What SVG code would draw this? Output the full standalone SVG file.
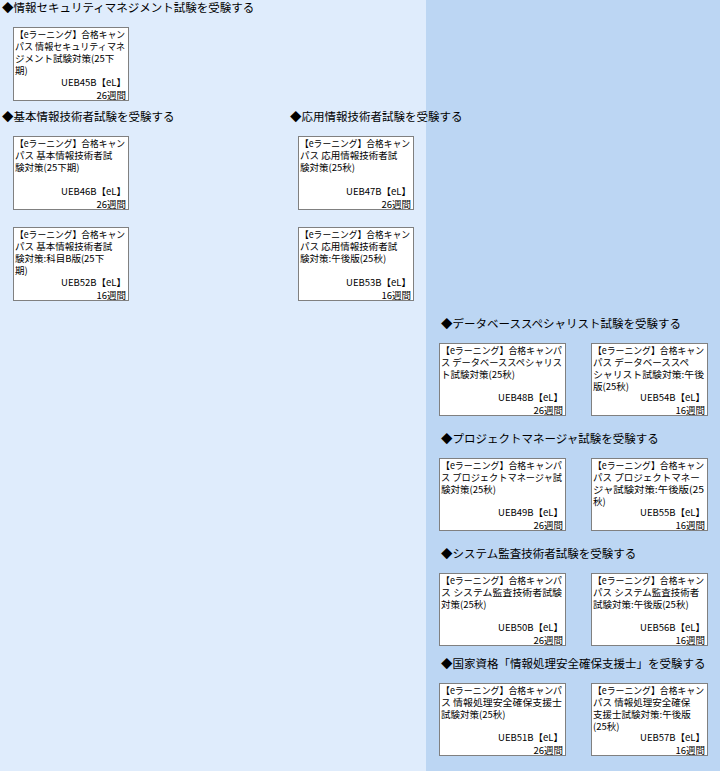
<svg xmlns="http://www.w3.org/2000/svg" width="720" height="771" viewBox="0 0 720 771">
<style>
.h{font-family:"Noto Sans CJK JP",sans-serif;font-size:11.5px;fill:#000}
.t{font-family:"Noto Sans CJK JP",sans-serif;font-size:9.5px;fill:#000}
.r{text-anchor:end}
.b{fill:#fff;stroke:#808080;stroke-width:1}
</style>
<rect x="0" y="0" width="426" height="771" fill="#dfecfc"/>
<rect x="426" y="0" width="294" height="771" fill="#bcd6f3"/>
<g id="headings">
<text class="h" x="2" y="12">◆情報セキュリティマネジメント試験を受験する</text>
<text class="h" x="2" y="121">◆基本情報技術者試験を受験する</text>
<text class="h" x="290" y="121">◆応用情報技術者試験を受験する</text>
<text class="h" x="441" y="328">◆データベーススペシャリスト試験を受験する</text>
<text class="h" x="441" y="443">◆プロジェクトマネージャ試験を受験する</text>
<text class="h" x="441" y="558">◆システム監査技術者試験を受験する</text>
<text class="h" x="441" y="668">◆国家資格「情報処理安全確保支援士」を受験する</text>
</g>
<g id="n1"><rect class="b" x="13.5" y="27.5" width="115" height="73"/>
<text class="t" x="15" y="38" textLength="110" lengthAdjust="spacingAndGlyphs">【eラーニング】合格キャン</text><text class="t" x="15" y="50" textLength="110" lengthAdjust="spacingAndGlyphs">パス 情報セキュリティマネ</text><text class="t" x="15" y="62">ジメント試験対策(25下</text><text class="t" x="15" y="74">期)</text>
<text class="t r" x="126" y="86">UEB45B【eL】</text><text class="t r" x="126" y="99">26週間</text></g>
<g id="n2"><rect class="b" x="13.5" y="136.5" width="115" height="73"/>
<text class="t" x="15" y="147" textLength="110" lengthAdjust="spacingAndGlyphs">【eラーニング】合格キャン</text><text class="t" x="15" y="159">パス 基本情報技術者試</text><text class="t" x="15" y="171">験対策(25下期)</text>
<text class="t r" x="126" y="195">UEB46B【eL】</text><text class="t r" x="126" y="208">26週間</text></g>
<g id="n3"><rect class="b" x="13.5" y="227.5" width="115" height="73"/>
<text class="t" x="15" y="238" textLength="110" lengthAdjust="spacingAndGlyphs">【eラーニング】合格キャン</text><text class="t" x="15" y="250">パス 基本情報技術者試</text><text class="t" x="15" y="262">験対策:科目B版(25下</text><text class="t" x="15" y="274">期)</text>
<text class="t r" x="126" y="286">UEB52B【eL】</text><text class="t r" x="126" y="299">16週間</text></g>
<g id="n4"><rect class="b" x="298.5" y="136.5" width="115" height="73"/>
<text class="t" x="300" y="147" textLength="110" lengthAdjust="spacingAndGlyphs">【eラーニング】合格キャン</text><text class="t" x="300" y="159">パス 応用情報技術者試</text><text class="t" x="300" y="171">験対策(25秋)</text>
<text class="t r" x="411" y="195">UEB47B【eL】</text><text class="t r" x="411" y="208">26週間</text></g>
<g id="n5"><rect class="b" x="298.5" y="227.5" width="115" height="73"/>
<text class="t" x="300" y="238" textLength="110" lengthAdjust="spacingAndGlyphs">【eラーニング】合格キャン</text><text class="t" x="300" y="250">パス 応用情報技術者試</text><text class="t" x="300" y="262">験対策:午後版(25秋)</text>
<text class="t r" x="411" y="286">UEB53B【eL】</text><text class="t r" x="411" y="299">16週間</text></g>
<g id="n6"><rect class="b" x="439.5" y="343.5" width="126" height="72"/>
<text class="t" x="441" y="354" textLength="121" lengthAdjust="spacingAndGlyphs">【eラーニング】合格キャンパ</text><text class="t" x="441" y="366" textLength="121" lengthAdjust="spacingAndGlyphs">ス データベーススペシャリス</text><text class="t" x="441" y="378">ト試験対策(25秋)</text>
<text class="t r" x="563" y="401">UEB48B【eL】</text><text class="t r" x="563" y="414">26週間</text></g>
<g id="n7"><rect class="b" x="591.5" y="343.5" width="116" height="72"/>
<text class="t" x="593" y="354" textLength="111" lengthAdjust="spacingAndGlyphs">【eラーニング】合格キャン</text><text class="t" x="593" y="366">パス データベーススペ</text><text class="t" x="593" y="378" textLength="111" lengthAdjust="spacingAndGlyphs">シャリスト試験対策:午後</text><text class="t" x="593" y="390">版(25秋)</text>
<text class="t r" x="705" y="401">UEB54B【eL】</text><text class="t r" x="705" y="414">16週間</text></g>
<g id="n8"><rect class="b" x="439.5" y="458.5" width="126" height="72"/>
<text class="t" x="441" y="469" textLength="121" lengthAdjust="spacingAndGlyphs">【eラーニング】合格キャンパ</text><text class="t" x="441" y="481" textLength="121" lengthAdjust="spacingAndGlyphs">ス プロジェクトマネージャ試</text><text class="t" x="441" y="493">験対策(25秋)</text>
<text class="t r" x="563" y="516">UEB49B【eL】</text><text class="t r" x="563" y="529">26週間</text></g>
<g id="n9"><rect class="b" x="591.5" y="458.5" width="116" height="72"/>
<text class="t" x="593" y="469" textLength="111" lengthAdjust="spacingAndGlyphs">【eラーニング】合格キャン</text><text class="t" x="593" y="481">パス プロジェクトマネー</text><text class="t" x="593" y="493" textLength="111" lengthAdjust="spacingAndGlyphs">ジャ試験対策:午後版(25</text><text class="t" x="593" y="505">秋)</text>
<text class="t r" x="705" y="516">UEB55B【eL】</text><text class="t r" x="705" y="529">16週間</text></g>
<g id="n10"><rect class="b" x="439.5" y="573.5" width="126" height="72"/>
<text class="t" x="441" y="584" textLength="121" lengthAdjust="spacingAndGlyphs">【eラーニング】合格キャンパ</text><text class="t" x="441" y="596" textLength="121" lengthAdjust="spacingAndGlyphs">ス システム監査技術者試験</text><text class="t" x="441" y="608">対策(25秋)</text>
<text class="t r" x="563" y="631">UEB50B【eL】</text><text class="t r" x="563" y="644">26週間</text></g>
<g id="n11"><rect class="b" x="591.5" y="573.5" width="116" height="72"/>
<text class="t" x="593" y="584" textLength="111" lengthAdjust="spacingAndGlyphs">【eラーニング】合格キャン</text><text class="t" x="593" y="596">パス システム監査技術者</text><text class="t" x="593" y="608">試験対策:午後版(25秋)</text>
<text class="t r" x="705" y="631">UEB56B【eL】</text><text class="t r" x="705" y="644">16週間</text></g>
<g id="n12"><rect class="b" x="439.5" y="683.5" width="126" height="72"/>
<text class="t" x="441" y="694" textLength="121" lengthAdjust="spacingAndGlyphs">【eラーニング】合格キャンパ</text><text class="t" x="441" y="706" textLength="121" lengthAdjust="spacingAndGlyphs">ス 情報処理安全確保支援士</text><text class="t" x="441" y="718">試験対策(25秋)</text>
<text class="t r" x="563" y="741">UEB51B【eL】</text><text class="t r" x="563" y="754">26週間</text></g>
<g id="n13"><rect class="b" x="591.5" y="683.5" width="116" height="72"/>
<text class="t" x="593" y="694" textLength="111" lengthAdjust="spacingAndGlyphs">【eラーニング】合格キャン</text><text class="t" x="593" y="706">パス 情報処理安全確保</text><text class="t" x="593" y="718">支援士試験対策:午後版</text><text class="t" x="593" y="730">(25秋)</text>
<text class="t r" x="705" y="741">UEB57B【eL】</text><text class="t r" x="705" y="754">16週間</text></g>
<g id="connectors"></g>
</svg>
